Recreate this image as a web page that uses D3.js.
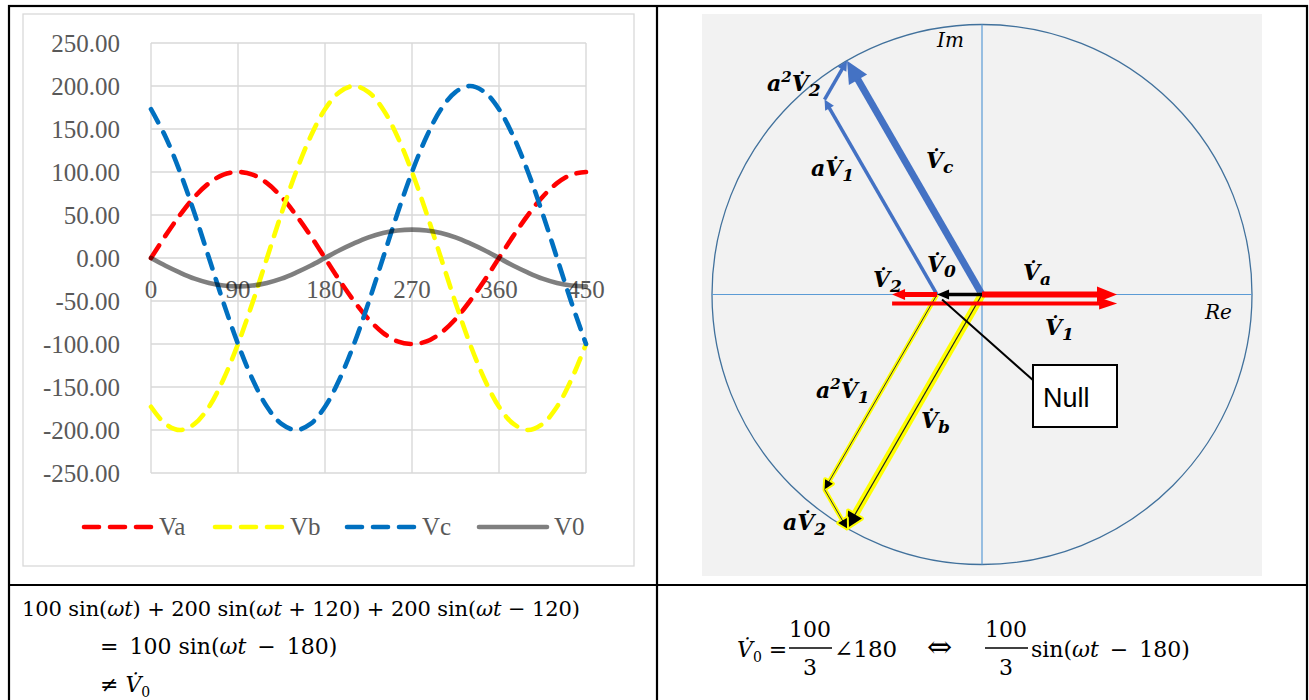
<!DOCTYPE html>
<html>
<head>
<meta charset="utf-8">
<script src="https://cdn.jsdelivr.net/npm/d3@7"></script>
<style>
  body { margin: 0; background: #fff; }
  svg { display: block; }
</style>
</head>
<body>
<svg id="fig" width="1309" height="700"></svg>
<script>
// ---- Waveform data (phase angle in degrees, instantaneous voltage) ----
const degrees = [0,15,30,45,60,75,90,105,120,135,150,165,180,195,210,225,240,255,270,285,300,315,330,345,360,375,390,405,420,435,450];
const va = [0,26,50,71,87,97,100,97,87,71,50,26,0,-26,-50,-71,-87,-97,-100,-97,-87,-71,-50,-26,0,26,50,71,87,97,100];
const vb = [-173,-193,-200,-193,-173,-141,-100,-52,0,52,100,141,173,193,200,193,173,141,100,52,0,-52,-100,-141,-173,-193,-200,-193,-173,-141,-100];
const vc = [173,141,100,52,0,-52,-100,-141,-173,-193,-200,-193,-173,-141,-100,-52,0,52,100,141,173,193,200,193,173,141,100,52,0,-52,-100];
const v0 = [0,-9,-17,-24,-29,-32,-33,-32,-29,-24,-17,-9,0,9,17,24,29,32,33,32,29,24,17,9,0,-9,-17,-24,-29,-32,-33];
const seriesNames = ["Va", "Vb", "Vc", "V0"];
const xTicks = [0, 90, 180, 270, 360, 450];
const yTicks = [-250, -200, -150, -100, -50, 0, 50, 100, 150, 200, 250];

// ---- Phasor data (magnitude, angle in degrees) ----
const phaseNames = ["a", "b", "c"];
const phaseMag = [100, 200, 200];
const phaseAng = [0, -120, 120];
const compNames = ["0", "1", "2"];
const compMag = [33.3, 166.7, 33.3];
const compAng = [180, 0, 180];

const svg = d3.select("#fig");

// ================= table frame =================
const frame = svg.append("g").attr("fill", "none").attr("stroke", "#000").attr("stroke-width", 2.2);
frame.append("rect").attr("x", 9).attr("y", 6).attr("width", 1298).attr("height", 720);
frame.append("line").attr("x1", 657).attr("x2", 657).attr("y1", 6).attr("y2", 700);
frame.append("line").attr("x1", 9).attr("x2", 1307).attr("y1", 585).attr("y2", 585);

// ================= waveform chart =================
const chart = svg.append("g");
chart.append("rect").attr("x", 23).attr("y", 14).attr("width", 611).attr("height", 552)
  .attr("fill", "#fff").attr("stroke", "#D9D9D9").attr("stroke-width", 1.3);

const x = d3.scaleLinear().domain([0, 450]).range([151, 586]);
const y = d3.scaleLinear().domain([-250, 250]).range([473, 43]);
const serif = "'Liberation Serif', 'Times New Roman', serif";
const tickColor = "#595959";

const grid = chart.append("g").attr("stroke", "#D9D9D9").attr("stroke-width", 1.4);
grid.selectAll(".h").data(yTicks).join("line")
  .attr("x1", x(0)).attr("x2", x(450)).attr("y1", d => y(d)).attr("y2", d => y(d));
grid.selectAll(".v").data(xTicks).join("line")
  .attr("x1", d => x(d)).attr("x2", d => x(d)).attr("y1", y(250)).attr("y2", y(-250));

const fmt = v => (v < 0 ? "-" : "") + Math.abs(v).toFixed(2);
chart.append("g").selectAll("text").data(yTicks).join("text")
  .attr("x", 120).attr("y", d => y(d)).attr("dy", "0.34em")
  .attr("text-anchor", "end").attr("font-family", serif).attr("font-size", 25)
  .attr("fill", tickColor).text(fmt);
chart.append("g").selectAll("text").data(xTicks).join("text")
  .attr("x", d => x(d)).attr("y", y(0) + 40).attr("text-anchor", "middle")
  .attr("font-family", serif).attr("font-size", 25).attr("fill", tickColor).text(d => d);

const seriesData = [va, vb, vc, v0];
const seriesStyle = [
  { color: "#FF0000", dash: "15,11", opacity: 1 },
  { color: "#FFFF00", dash: "15,11", opacity: 1 },
  { color: "#0070C0", dash: "15,11", opacity: 1 },
  { color: "#000000", dash: null, opacity: 0.5 }
];
const line = d3.line().x((d, i) => x(degrees[i])).y(d => y(d)).curve(d3.curveCatmullRom.alpha(0.5));
seriesData.forEach((vals, k) => {
  const st = seriesStyle[k];
  chart.append("path").datum(vals).attr("d", line)
    .attr("fill", "none").attr("stroke", st.color).attr("stroke-opacity", st.opacity)
    .attr("stroke-width", 4.6).attr("stroke-linecap", "round").attr("stroke-linejoin", "round")
    .attr("stroke-dasharray", st.dash);
});

// legend
const legendX = [84, 215, 347, 479];
const legend = chart.append("g");
seriesNames.forEach((name, k) => {
  const st = seriesStyle[k];
  legend.append("line").attr("x1", legendX[k]).attr("x2", legendX[k] + 68)
    .attr("y1", 527).attr("y2", 527)
    .attr("stroke", st.color).attr("stroke-opacity", st.opacity).attr("stroke-width", 4.6)
    .attr("stroke-linecap", "round").attr("stroke-dasharray", st.dash);
  legend.append("text").attr("x", legendX[k] + 75).attr("y", 535)
    .attr("font-family", serif).attr("font-size", 25).attr("fill", tickColor).text(name);
});

// ================= phasor diagram =================
const ph = svg.append("g");
ph.append("rect").attr("x", 702).attr("y", 14).attr("width", 560).attr("height", 562).attr("fill", "#F2F2F2");

const cx = 982, cy = 294.5, R = 270;
const px = d3.scaleLinear().domain([-200, 200]).range([cx - R, cx + R]);
const py = d3.scaleLinear().domain([-200, 200]).range([cy + R, cy - R]);

ph.append("circle").attr("cx", px(0)).attr("cy", py(0)).attr("r", px(200) - px(0))
  .attr("fill", "none").attr("stroke", "#41719C").attr("stroke-width", 1.3);
ph.append("line").attr("x1", px(-200)).attr("x2", px(200)).attr("y1", py(0)).attr("y2", py(0))
  .attr("stroke", "#5B9BD5").attr("stroke-width", 1.2);
ph.append("line").attr("x1", px(0)).attr("x2", px(0)).attr("y1", py(200)).attr("y2", py(-200))
  .attr("stroke", "#5B9BD5").attr("stroke-width", 1.2);

const vec = (m, a) => [m * Math.cos(a * Math.PI / 180), m * Math.sin(a * Math.PI / 180)];
const add = (p, q) => [p[0] + q[0], p[1] + q[1]];
const rot = (p, a) => { const c = Math.cos(a * Math.PI / 180), s = Math.sin(a * Math.PI / 180); return [p[0] * c - p[1] * s, p[0] * s + p[1] * c]; };
const toPx = (p, off) => [px(p[0]), py(p[1]) + (off || 0)];

const Va = vec(phaseMag[0], phaseAng[0]);
const Vb = vec(phaseMag[1], phaseAng[1]);
const Vc = vec(phaseMag[2], phaseAng[2]);
const V0 = vec(compMag[0], compAng[0]);
const V1 = vec(compMag[1], compAng[1]);
const V2 = vec(compMag[2], compAng[2]);
const O = [0, 0];

function arrow(g, a, b, s) {
  const dx = b[0] - a[0], dy = b[1] - a[1], L = Math.hypot(dx, dy);
  const ux = dx / L, uy = dy / L, nx = -uy, ny = ux;
  const base = [b[0] - ux * s.head, b[1] - uy * s.head];
  const end = [base[0] + ux * 2, base[1] + uy * 2];
  const head = [b, [base[0] + nx * s.hw / 2, base[1] + ny * s.hw / 2], [base[0] - nx * s.hw / 2, base[1] - ny * s.hw / 2]];
  const d = "M" + head.map(p => p.join(",")).join("L") + "Z";
  if (s.glow) {
    g.append("line").attr("x1", a[0]).attr("y1", a[1]).attr("x2", end[0]).attr("y2", end[1])
      .attr("stroke", s.glow).attr("stroke-width", s.glowWidth);
    g.append("path").attr("d", d).attr("fill", s.glow).attr("stroke", s.glow)
      .attr("stroke-width", 4).attr("stroke-linejoin", "round");
  }
  g.append("line").attr("x1", a[0]).attr("y1", a[1]).attr("x2", end[0]).attr("y2", end[1])
    .attr("stroke", s.color).attr("stroke-width", s.width);
  g.append("path").attr("d", d).attr("fill", s.headColor || s.color);
}

const arrows = ph.append("g");
const blue = "#4472C4";
// phase c : V0 + aV1 + a^2 V2
const c1 = add(V0, rot(V1, 120));
arrow(arrows, toPx(O), toPx(Vc), { color: blue, width: 7, head: 22, hw: 21 });
arrow(arrows, toPx(V0), toPx(c1), { color: blue, width: 3.5, head: 10, hw: 10 });
arrow(arrows, toPx(c1), toPx(add(c1, rot(V2, 240))), { color: blue, width: 3.5, head: 10, hw: 10 });
// phase b : V0 + a^2 V1 + aV2
const b1 = add(V0, rot(V1, 240));
arrow(arrows, toPx(O), toPx(Vb), { color: "#222", width: 1.2, head: 16, hw: 16, headColor: "#000", glow: "#FFFF00", glowWidth: 8 });
arrow(arrows, toPx(V0), toPx(b1), { color: "#333", width: 1, head: 9, hw: 9, headColor: "#000", glow: "#FFFF00", glowWidth: 4.5 });
arrow(arrows, toPx(b1), toPx(add(b1, rot(V2, 120))), { color: "#333", width: 1, head: 9, hw: 10, headColor: "#000", glow: "#FFFF00", glowWidth: 4.5 });
// phase a : V0 + V1 + V2
const a2 = add(V0, V2);
arrow(arrows, toPx(a2, 9), toPx(add(a2, V1), 9), { color: "#FF0000", width: 4, head: 18, hw: 12 });
arrow(arrows, toPx(O), toPx(Va), { color: "#FF0000", width: 6, head: 20, hw: 16 });
arrow(arrows, toPx(V0), toPx(a2), { color: "#FF0000", width: 5, head: 13, hw: 11 });
arrow(arrows, toPx(O), toPx(V0), { color: "#000", width: 3.5, head: 12, hw: 10 });

// callout
const p0 = toPx(V0);
ph.append("line").attr("x1", 1034).attr("y1", 381).attr("x2", p0[0] + 5).attr("y2", p0[1] + 5)
  .attr("stroke", "#000").attr("stroke-width", 2);
ph.append("rect").attr("x", 1033).attr("y", 365).attr("width", 84).attr("height", 62)
  .attr("fill", "#fff").attr("stroke", "#000").attr("stroke-width", 2);
ph.append("text").attr("x", 1043).attr("y", 407)
  .attr("font-family", "'Liberation Sans', Arial, sans-serif").attr("font-size", 27).attr("fill", "#000").text("Null");

// axis names
const mathFont = "'DejaVu Serif', serif";
ph.append("text").attr("x", 937).attr("y", 47).attr("font-family", mathFont).attr("font-style", "italic")
  .attr("font-size", 20).text("Im");
ph.append("text").attr("x", 1205).attr("y", 319).attr("font-family", mathFont).attr("font-style", "italic")
  .attr("font-size", 20).text("Re");

// phasor labels: prefix ("a" / "a²"), dotted V, subscript
function phLabel(g, xx, yy, prefix, sup, sub) {
  const t = g.append("text").attr("x", xx).attr("y", yy)
    .attr("font-family", mathFont).attr("font-style", "italic").attr("font-weight", "bold")
    .attr("font-size", 22).attr("fill", "#000");
  if (prefix) t.append("tspan").text(prefix);
  if (sup) t.append("tspan").attr("font-size", 15).attr("dy", -9).text(sup);
  t.append("tspan").attr("dy", sup ? 9 : 0).text("V\u0307");
  t.append("tspan").attr("font-size", 17).attr("dy", 5).text(sub);
}
const labels = ph.append("g");
phLabel(labels, 767, 91, "a", "2", compNames[2]);
phLabel(labels, 811, 176, "a", null, compNames[1]);
phLabel(labels, 926, 168, null, null, phaseNames[2]);
phLabel(labels, 927, 272, null, null, compNames[0]);
phLabel(labels, 873, 287, null, null, compNames[2]);
phLabel(labels, 1023, 280, null, null, phaseNames[0]);
phLabel(labels, 1045, 335, null, null, compNames[1]);
phLabel(labels, 816, 398, "a", "2", compNames[1]);
phLabel(labels, 921, 428, null, null, phaseNames[1]);
phLabel(labels, 783, 530, "a", null, compNames[2]);

// ================= formulas =================
const fsz = 21;
const sp = "\u2002"; // wider operator spacing
function formula(g, xx, yy, parts, opt) {
  opt = opt || {};
  const t = g.append("text").attr("x", xx).attr("y", yy).attr("font-family", mathFont)
    .attr("font-size", opt.size || fsz).attr("fill", "#000").attr("text-anchor", opt.anchor || "start");
  if (opt.len) t.attr("textLength", opt.len).attr("lengthAdjust", "spacing");
  parts.forEach(p => {
    const s = t.append("tspan").text(p.t);
    if (p.i) s.attr("font-style", "italic");
    if (p.dy) s.attr("dy", p.dy);
    if (p.fs) s.attr("font-size", p.fs);
  });
  return t;
}
const fm = svg.append("g");
formula(fm, 22, 616, [
  { t: "100 sin(" }, { t: "\u03C9t", i: 1 }, { t: ") + 200 sin(" }, { t: "\u03C9t", i: 1 },
  { t: " + 120) + 200 sin(" }, { t: "\u03C9t", i: 1 }, { t: " \u2212 120)" }
], { len: 558 });
formula(fm, 100, 654, [{ t: "=" + sp + "100 sin(" }, { t: "\u03C9t", i: 1 }, { t: sp + "\u2212" + sp + "180)" }], { size: 22 });
formula(fm, 100, 692, [{ t: "\u2260 " }, { t: "V\u0307", i: 1 }, { t: "0", fs: 14, dy: 5 }], { size: 22 });

formula(fm, 737, 657, [{ t: "V\u0307", i: 1 }, { t: "0", fs: 14, dy: 5 }, { t: " =", dy: -5 }], { size: 22 });
formula(fm, 810, 637, [{ t: "100" }], { anchor: "middle", size: 22 });
fm.append("line").attr("x1", 789).attr("x2", 832).attr("y1", 648).attr("y2", 648).attr("stroke", "#000").attr("stroke-width", 1.3);
formula(fm, 810, 675, [{ t: "3" }], { anchor: "middle", size: 22 });
formula(fm, 834, 657, [{ t: "\u2220180" }], { size: 23 });
formula(fm, 927, 657, [{ t: "\u21D4" }], { size: 30 });
formula(fm, 1006, 637, [{ t: "100" }], { anchor: "middle", size: 22 });
fm.append("line").attr("x1", 985).attr("x2", 1028).attr("y1", 648).attr("y2", 648).attr("stroke", "#000").attr("stroke-width", 1.3);
formula(fm, 1006, 675, [{ t: "3" }], { anchor: "middle", size: 22 });
formula(fm, 1031, 657, [{ t: "sin(" }, { t: "\u03C9t", i: 1 }, { t: sp + "\u2212" + sp + "180)" }], { size: 22 });
</script>
</body>
</html>
